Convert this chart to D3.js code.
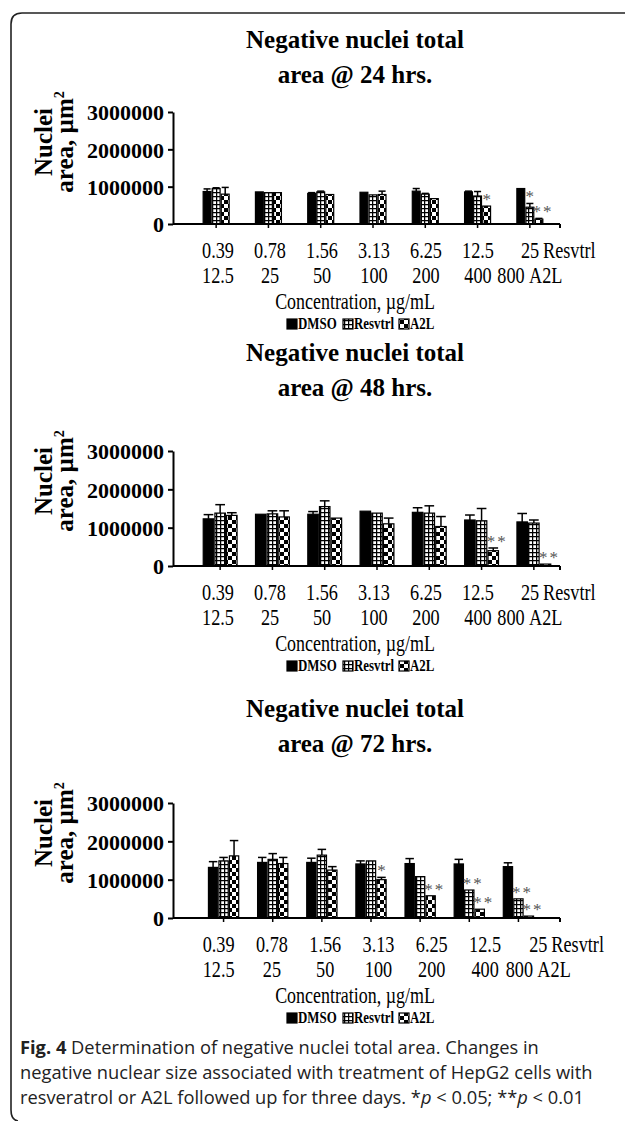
<!DOCTYPE html>
<html>
<head>
<meta charset="utf-8">
<script src="https://cdn.jsdelivr.net/npm/d3@7"></script>
<style>
  body { margin: 0; background: #fff; }
  svg { display: block; }
</style>
</head>
<body>
<svg id="svg" width="625" height="1121"></svg>
<script>
// concentrations on the x axis (two rows of labels)
let resvtrlConc = ["0.39", "0.78", "1.56", "3.13", "6.25", "12.5", "25"];
let a2lConc = ["12.5", "25", "50", "100", "200", "400", "800"];
let seriesNames = ["DMSO", "Resvtrl", "A2L"];
let yTicks = [0, 1000000, 2000000, 3000000];

// 24 hrs
let dmso24 = [870000, 860000, 820000, 850000, 880000, 860000, 950000];
let dmso24Err = [70000, 0, 20000, 0, 70000, 20000, 0];
let resv24 = [950000, 840000, 860000, 780000, 800000, 750000, 450000];
let resv24Err = [20000, 0, 20000, 0, 20000, 120000, 100000];
let a2l24 = [800000, 840000, 790000, 790000, 680000, 480000, 130000];
let a2l24Err = [180000, 0, 0, 90000, 0, 0, 20000];
let resv24Sig = ["", "", "", "", "", "", "*"];
let a2l24Sig = ["", "", "", "", "", "*", "**"];

// 48 hrs
let dmso48 = [1230000, 1350000, 1350000, 1430000, 1400000, 1200000, 1150000];
let dmso48Err = [110000, 0, 70000, 0, 120000, 130000, 220000];
let resv48 = [1380000, 1360000, 1550000, 1380000, 1380000, 1180000, 1120000];
let resv48Err = [220000, 80000, 150000, 0, 190000, 320000, 80000];
let a2l48 = [1320000, 1280000, 1250000, 1100000, 1030000, 400000, 50000];
let a2l48Err = [70000, 160000, 0, 150000, 260000, 70000, 0];
let resv48Sig = ["", "", "", "", "", "", ""];
let a2l48Sig = ["", "", "", "", "", "**", "**"];

// 72 hrs
let dmso72 = [1320000, 1450000, 1450000, 1410000, 1420000, 1410000, 1340000];
let dmso72Err = [150000, 130000, 110000, 80000, 130000, 120000, 100000];
let resv72 = [1490000, 1530000, 1640000, 1490000, 1080000, 730000, 500000];
let resv72Err = [90000, 150000, 150000, 0, 0, 0, 0];
let a2l72 = [1620000, 1420000, 1250000, 1000000, 580000, 230000, 50000];
let a2l72Err = [400000, 160000, 90000, 60000, 0, 0, 0];
let resv72Sig = ["", "", "", "", "", "**", "**"];
let a2l72Sig = ["", "", "", "*", "**", "**", "**"];

let svg = d3.select("#svg");
let serif = "'Liberation Serif', 'Times New Roman', serif";

// fill patterns
let defs = svg.append("defs");
let pGrid = defs.append("pattern").attr("id", "pResv").attr("patternUnits", "userSpaceOnUse")
    .attr("width", 4).attr("height", 4);
pGrid.append("rect").attr("width", 4).attr("height", 4).attr("fill", "#fff");
pGrid.append("path").attr("d", "M0,0.6H4M0.6,0V4").attr("stroke", "#000").attr("stroke-width", 1.3);
let pChk = defs.append("pattern").attr("id", "pA2L").attr("patternUnits", "userSpaceOnUse")
    .attr("width", 8).attr("height", 8);
pChk.append("rect").attr("width", 8).attr("height", 8).attr("fill", "#fff");
pChk.append("rect").attr("width", 4).attr("height", 4).attr("fill", "#000");
pChk.append("rect").attr("x", 4).attr("y", 4).attr("width", 4).attr("height", 4).attr("fill", "#000");
let fills = { DMSO: "#000", Resvtrl: "url(#pResv)", A2L: "url(#pA2L)" };

// frame of the figure box
svg.append("path")
    .attr("d", "M625,13H22Q11,13 11,24V1110Q11,1120 18,1121")
    .attr("fill", "none").attr("stroke", "#222").attr("stroke-width", 1.6);

let panels = [
    { hrs: "24", titleY: 48, y0: 224, yTop: 112, xr: [190, 556], lr: [192, 556], pad: 0.48,
      vals: [dmso24, resv24, a2l24], errs: [dmso24Err, resv24Err, a2l24Err], sig: [null, resv24Sig, a2l24Sig] },
    { hrs: "48", titleY: 361, y0: 566, yTop: 451, xr: [194, 560], lr: [192, 556], pad: 0.33,
      vals: [dmso48, resv48, a2l48], errs: [dmso48Err, resv48Err, a2l48Err], sig: [null, resv48Sig, a2l48Sig] },
    { hrs: "72", titleY: 717, y0: 918, yTop: 803, xr: [199, 543], lr: [192, 565], pad: 0.36,
      vals: [dmso72, resv72, a2l72], errs: [dmso72Err, resv72Err, a2l72Err], sig: [null, resv72Sig, a2l72Sig] }
];

let axisX = 173;
let lab = "24px " + serif;

panels.forEach(function (p) {
    let g = svg.append("g");

    // title
    g.append("text").attr("x", 355).attr("y", p.titleY).attr("text-anchor", "middle")
        .style("font", "bold 25px " + serif).text("Negative nuclei total");
    g.append("text").attr("x", 355).attr("y", p.titleY + 35).attr("text-anchor", "middle")
        .style("font", "bold 25px " + serif).text("area @ " + p.hrs + " hrs.");

    let y = d3.scaleLinear().domain([0, 3000000]).range([p.y0, p.yTop]);
    let x = d3.scaleBand().domain(resvtrlConc).range(p.xr).paddingInner(p.pad).paddingOuter(p.pad / 2);
    let xs = d3.scaleBand().domain(seriesNames).range([0, x.bandwidth()]);
    let xl = d3.scaleBand().domain(resvtrlConc).range(p.lr);

    // y axis
    let yAxis = g.append("g").attr("transform", "translate(" + axisX + ",0)")
        .call(d3.axisLeft(y).tickValues(yTicks).tickSize(5).tickSizeOuter(0).tickFormat(d3.format("d")));
    yAxis.select(".domain").attr("stroke", "#000").attr("stroke-width", 2);
    yAxis.selectAll(".tick line").attr("stroke", "#000").attr("stroke-width", 2);
    yAxis.selectAll(".tick text").attr("x", -9).attr("dy", "0.35em")
        .style("font", "bold 22px " + serif).attr("fill", "#000");

    // y label
    let cy = p.yTop + 30;
    g.append("text").attr("transform", "translate(52," + cy + ") rotate(-90)").attr("text-anchor", "middle")
        .style("font", "bold 25px " + serif).text("Nuclei");
    let al = g.append("text").attr("transform", "translate(73," + cy + ") rotate(-90)").attr("text-anchor", "middle")
        .style("font", "bold 25px " + serif);
    al.append("tspan").text("area, µm");
    al.append("tspan").attr("dy", -9).style("font-size", "14px").text("2");

    // bars
    seriesNames.forEach(function (s, si) {
        resvtrlConc.forEach(function (c, i) {
            let v = p.vals[si][i], e = p.errs[si][i];
            let bx = x(c) + xs(s), bw = xs.bandwidth();
            if (e > 0) {
                g.append("line").attr("x1", bx + bw / 2).attr("x2", bx + bw / 2)
                    .attr("y1", y(v)).attr("y2", y(v + e)).attr("stroke", "#000").attr("stroke-width", 1.5);
                g.append("line").attr("x1", bx + 1).attr("x2", bx + bw - 1)
                    .attr("y1", y(v + e)).attr("y2", y(v + e)).attr("stroke", "#000").attr("stroke-width", 1.5);
            }
            g.append("rect").attr("x", bx + 0.6).attr("y", y(v)).attr("width", bw - 1.2)
                .attr("height", y(0) - y(v)).attr("fill", fills[s]).attr("stroke", "#000").attr("stroke-width", 1.2);
            if (p.sig[si] && p.sig[si][i]) {
                g.append("text").attr("x", bx + bw / 2 + (p.sig[si][i] === "**" ? 4 : 1)).attr("y", y(v + e) - 1)
                    .attr("text-anchor", "middle").attr("fill", "#555")
                    .style("font", "17px " + serif).style("letter-spacing", "2px").text(p.sig[si][i]);
            }
        });
    });

    // x axis
    g.append("line").attr("x1", axisX).attr("x2", 560).attr("y1", y(0)).attr("y2", y(0))
        .attr("stroke", "#000").attr("stroke-width", 2);
    g.append("line").attr("x1", 560).attr("x2", 560).attr("y1", y(0)).attr("y2", y(0) + 4)
        .attr("stroke", "#000").attr("stroke-width", 2);
    resvtrlConc.forEach(function (c) {
        g.append("line").attr("x1", x(c) + x.bandwidth() / 2).attr("x2", x(c) + x.bandwidth() / 2)
            .attr("y1", y(0)).attr("y2", y(0) + 4).attr("stroke", "#000").attr("stroke-width", 1.5);
    });

    // x labels, two rows
    let lastIdx = resvtrlConc.length - 1;
    resvtrlConc.forEach(function (c, i) {
        let cx = xl(c) + xl.bandwidth() / 2;
        g.append("text").attr("transform", "translate(" + cx + "," + (p.y0 + 34) + ") scale(0.76,1)")
            .attr("text-anchor", "middle").style("font", lab).text(c);
        let cx2 = i === lastIdx ? cx - 19 : cx;
        g.append("text").attr("transform", "translate(" + cx2 + "," + (p.y0 + 59) + ") scale(0.76,1)")
            .attr("text-anchor", "middle").style("font", lab).text(a2lConc[i]);
        if (i === lastIdx) {
            g.append("text").attr("transform", "translate(" + (cx + 13) + "," + (p.y0 + 34) + ") scale(0.76,1)")
                .style("font", lab).text("Resvtrl");
            g.append("text").attr("transform", "translate(" + (cx - 1) + "," + (p.y0 + 59) + ") scale(0.76,1)")
                .style("font", lab).text("A2L");
        }
    });

    g.append("text").attr("transform", "translate(355," + (p.y0 + 85) + ") scale(0.78,1)")
        .attr("text-anchor", "middle").style("font", "23px " + serif).text("Concentration, µg/mL");

    // legend
    let legX = [287, 343, 399];
    seriesNames.forEach(function (s, si) {
        g.append("rect").attr("x", legX[si]).attr("y", p.y0 + 95).attr("width", 10).attr("height", 10)
            .attr("fill", fills[s]).attr("stroke", "#000").attr("stroke-width", 1.2);
        g.append("text").attr("transform", "translate(" + (legX[si] + 11) + "," + (p.y0 + 105) + ") scale(0.76,1)")
            .style("font", "bold 17px " + serif).text(s);
    });
});

// caption
let sans = "'Open Sans', 'Noto Sans', sans-serif";
let capFont = "18.3px " + sans;
let cap1 = svg.append("text").attr("x", 20).attr("y", 1054).style("font", capFont).attr("fill", "#222");
cap1.append("tspan").style("font-weight", "bold").text("Fig. 4");
cap1.append("tspan").text(" Determination of negative nuclei total area. Changes in");
svg.append("text").attr("x", 20).attr("y", 1079).style("font", capFont).attr("fill", "#222")
    .text("negative nuclear size associated with treatment of HepG2 cells with");
let cap3 = svg.append("text").attr("x", 20).attr("y", 1104).style("font", capFont).attr("fill", "#222");
cap3.append("tspan").text("resveratrol or A2L followed up for three days. *");
cap3.append("tspan").style("font-style", "italic").text("p");
cap3.append("tspan").text(" < 0.05; **");
cap3.append("tspan").style("font-style", "italic").text("p");
cap3.append("tspan").text(" < 0.01");
</script>
</body>
</html>
